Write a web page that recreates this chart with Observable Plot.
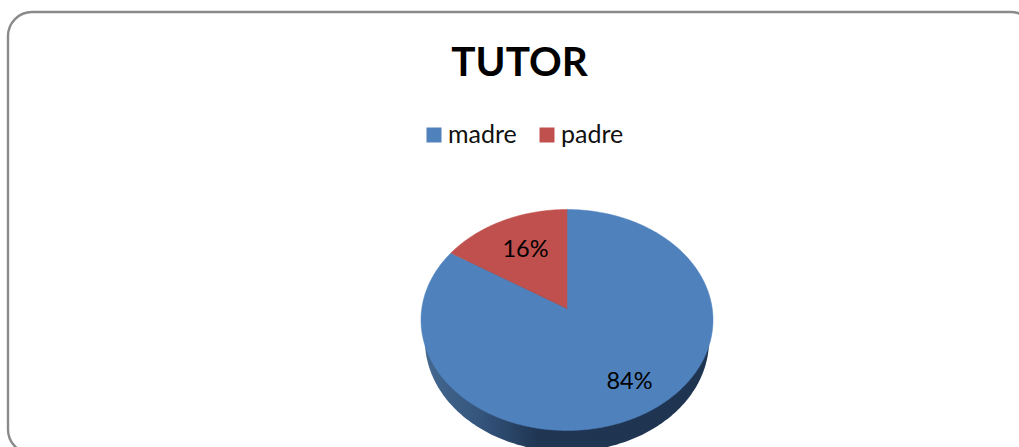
<!DOCTYPE html>
<html>
<head>
<meta charset="utf-8">
<script src="https://cdn.jsdelivr.net/npm/d3@7"></script>
<script src="https://cdn.jsdelivr.net/npm/@observablehq/plot@0.6"></script>
<style>
html,body{margin:0;padding:0;background:#fff;overflow:hidden;}
svg{display:block;}
</style>
</head>
<body>
<div id="chart"></div>
<script>
const title = "TUTOR";
const categories = ["madre", "padre"];
const values = [84, 16];
const colors = ["#4f81bd", "#c0504d"];

const W = 1019, H = 447, FONT = "Lato, Carlito, sans-serif";
const apexX = 566.5, apexY = 308, sx = 145.2, sy = 109.3, k = 0.104;

// perspective projection of the unit disc, as in a tilted 3-D pie
const project = (u, v) => { const w = 1 + k * v; return [u / w, v / w]; };

const arcs = d3.pie().sort(null).value(d => d.value).startAngle(0).endAngle(2 * Math.PI)(
  categories.map((c, i) => ({category: c, value: values[i]}))
);

const slicePts = [];
for (const a of arcs) {
  const n = Math.ceil((a.endAngle - a.startAngle) * 90);
  slicePts.push({category: a.data.category, x: 0, y: 0});
  for (let i = 0; i <= n; i++) {
    const t = a.startAngle + (a.endAngle - a.startAngle) * i / n;
    const [x, y] = project(Math.sin(t), Math.cos(t));
    slicePts.push({category: a.data.category, x, y});
  }
  slicePts.push({category: a.data.category, x: 0, y: 0});
}

// lower rim of the pie: the same disc, set lower and a little narrower
const wallPts = d3.range(0, 361, 1).map(deg => {
  const t = deg * Math.PI / 180;
  const [x, y] = project(Math.sin(t), Math.cos(t));
  return {x: x * 0.973, y: y * 1.005 - 0.187};
});

const gradient = () => {
  const s = d3.create("svg:defs");
  const g = s.append("linearGradient").attr("id", "wall").attr("gradientUnits", "userSpaceOnUse")
    .attr("x1", 424).attr("x2", 709).attr("y1", 0).attr("y2", 0);
  [[0, "#44688f"], [0.2, "#34547c"], [0.4, "#1f3552"], [1, "#1e3450"]].forEach(([o, c]) =>
    g.append("stop").attr("offset", o).attr("stop-color", c));
  return s.node();
};

const at = (left, top) => ({frameAnchor: "top-left", dx: left, dy: top});

const plot = Plot.plot({
  width: W, height: H,
  margin: 0,
  style: {background: "#fff", fontFamily: FONT, overflow: "hidden"},
  x: {domain: [-apexX / sx, (W - apexX) / sx], range: [0, W], axis: null},
  y: {domain: [-(H - apexY) / sy, apexY / sy], range: [H, 0], axis: null},
  color: {domain: categories, range: colors},
  marks: [
    Plot.frame({stroke: "#8a8a8a", strokeWidth: 2.4, rx: 24,
      insetLeft: 7.5, insetTop: 11.5, insetRight: -15, insetBottom: -6}),
    gradient,
    Plot.line(wallPts, {x: "x", y: "y", fill: "url(#wall)", stroke: "none"}),
    Plot.line(slicePts, {x: "x", y: "y", z: "category", fill: "category", stroke: "category", strokeWidth: 0.5}),
    Plot.text([title], {...at(519, 63), text: d => d, fontSize: 40.5, fontWeight: 700,
      textAnchor: "middle", lineAnchor: "middle", fill: "#000"}),
    Plot.dot(categories.slice(0, 1), {...at(433.5, 134.5), fill: d => d, symbol: "square", r: 8.46, stroke: "none"}),
    Plot.dot(categories.slice(1), {...at(546.5, 134.5), fill: d => d, symbol: "square", r: 8.46, stroke: "none"}),
    Plot.text(categories.slice(0, 1), {...at(447.5, 134), text: d => d, fontSize: 25,
      textAnchor: "start", lineAnchor: "middle", fill: "#111"}),
    Plot.text(categories.slice(1), {...at(560.5, 134), text: d => d, fontSize: 25,
      textAnchor: "start", lineAnchor: "middle", fill: "#111"}),
    Plot.text(values.slice(1), {...at(525, 249), text: d => d + "%", fontSize: 23.5,
      textAnchor: "middle", lineAnchor: "middle", fill: "#000"}),
    Plot.text(values.slice(0, 1), {...at(629, 381), text: d => d + "%", fontSize: 23.5,
      textAnchor: "middle", lineAnchor: "middle", fill: "#000"})
  ]
});
document.getElementById("chart").appendChild(plot);
</script>
</body>
</html>
